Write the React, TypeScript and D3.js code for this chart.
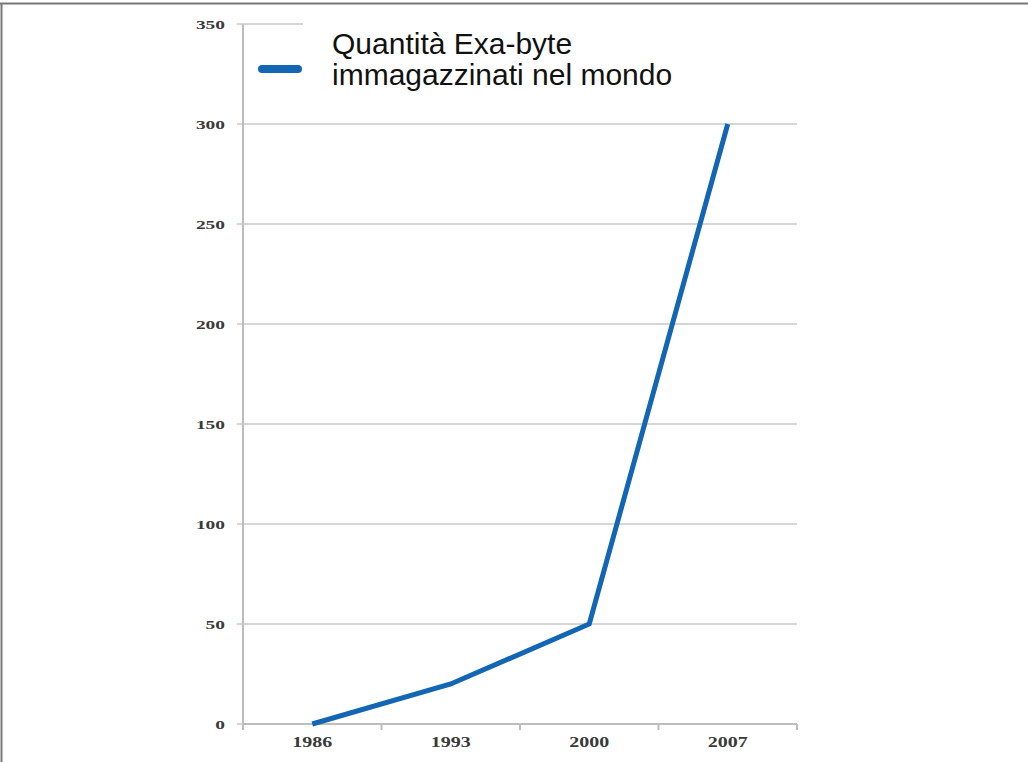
import React from "react";
import * as d3 from "d3";

const years = ["1986", "1993", "2000", "2007"];
const exabytes = [0, 20, 50, 300];
const yTicks = [0, 50, 100, 150, 200, 250, 300, 350];
const legendLines = ["Quantità Exa-byte", "immagazzinati nel mondo"];

export default function App() {
  const W = 1028;
  const H = 762;
  const left = 243;
  const right = 797;
  const top = 24;
  const bottom = 724;

  const x = d3.scaleBand<string>().domain(years).range([left, right]).padding(0);
  const y = d3.scaleLinear().domain([0, 350]).range([bottom, top]);

  const line = d3
    .line<number>()
    .x((_, i) => (x(years[i]) as number) + x.bandwidth() / 2)
    .y((d) => y(d));

  const boundaries = [...years.map((c) => x(c) as number), right];
  const gridColor = "#c9c9c9";
  const labelFont = "'Liberation Serif', 'DejaVu Serif', serif";

  return (
    <svg
      width={W}
      height={H}
      style={{ position: "absolute", left: 0, top: 0, background: "#fff" }}
    >
      <rect x={0} y={0} width={W} height={H} fill="#fff" />
      {/* frame */}
      <line x1={1.5} y1={3} x2={1.5} y2={H} stroke="#777" strokeWidth={2} />
      <line x1={0} y1={3.5} x2={W} y2={3.5} stroke="#777" strokeWidth={2} />

      {/* gridlines */}
      {yTicks.map((t) => (
        <line
          key={t}
          x1={left - 6}
          x2={right}
          y1={y(t)}
          y2={y(t)}
          stroke={gridColor}
          strokeWidth={1.6}
        />
      ))}

      {/* legend background */}
      <rect x={303} y={10} width={510} height={100} fill="#fff" />

      {/* axes */}
      <line x1={left} x2={left} y1={top} y2={bottom} stroke="#bdbdbd" strokeWidth={2} />
      <line x1={left} x2={right} y1={bottom} y2={bottom} stroke="#bdbdbd" strokeWidth={2} />
      {boundaries.map((b, i) => (
        <line key={i} x1={b} x2={b} y1={bottom} y2={bottom + 6} stroke="#bdbdbd" strokeWidth={2} />
      ))}

      {/* y labels */}
      {yTicks.map((t) => {
        const s = String(t);
        return (
          <text
            key={t}
            x={left - 18 - s.length * 9.7}
            y={y(t)}
            dy="0.35em"
            fontFamily={labelFont}
            fontWeight="bold"
            fontSize={13.5}
            fill="#3a3a3a"
            textLength={s.length * 9.7}
            lengthAdjust="spacingAndGlyphs"
          >
            {s}
          </text>
        );
      })}

      {/* x labels */}
      {years.map((c) => (
        <text
          key={c}
          x={(x(c) as number) + x.bandwidth() / 2 - (c.length * 10) / 2}
          y={bottom + 23}
          fontFamily={labelFont}
          fontWeight="bold"
          fontSize={14}
          fill="#3a3a3a"
          textLength={c.length * 10}
          lengthAdjust="spacingAndGlyphs"
        >
          {c}
        </text>
      ))}

      {/* data line */}
      <path
        d={line(exabytes) as string}
        fill="none"
        stroke="#1266b4"
        strokeWidth={5}
        strokeLinejoin="miter"
      />

      {/* legend */}
      <line x1={262} x2={298} y1={69} y2={69} stroke="#1266b4" strokeWidth={8} strokeLinecap="round" />
      {legendLines.map((s, i) => (
        <text
          key={i}
          x={332}
          y={54 + i * 31}
          fontFamily="'Liberation Sans', Arial, sans-serif"
          fontSize={30}
          fill="#111"
        >
          {s}
        </text>
      ))}
    </svg>
  );
}
